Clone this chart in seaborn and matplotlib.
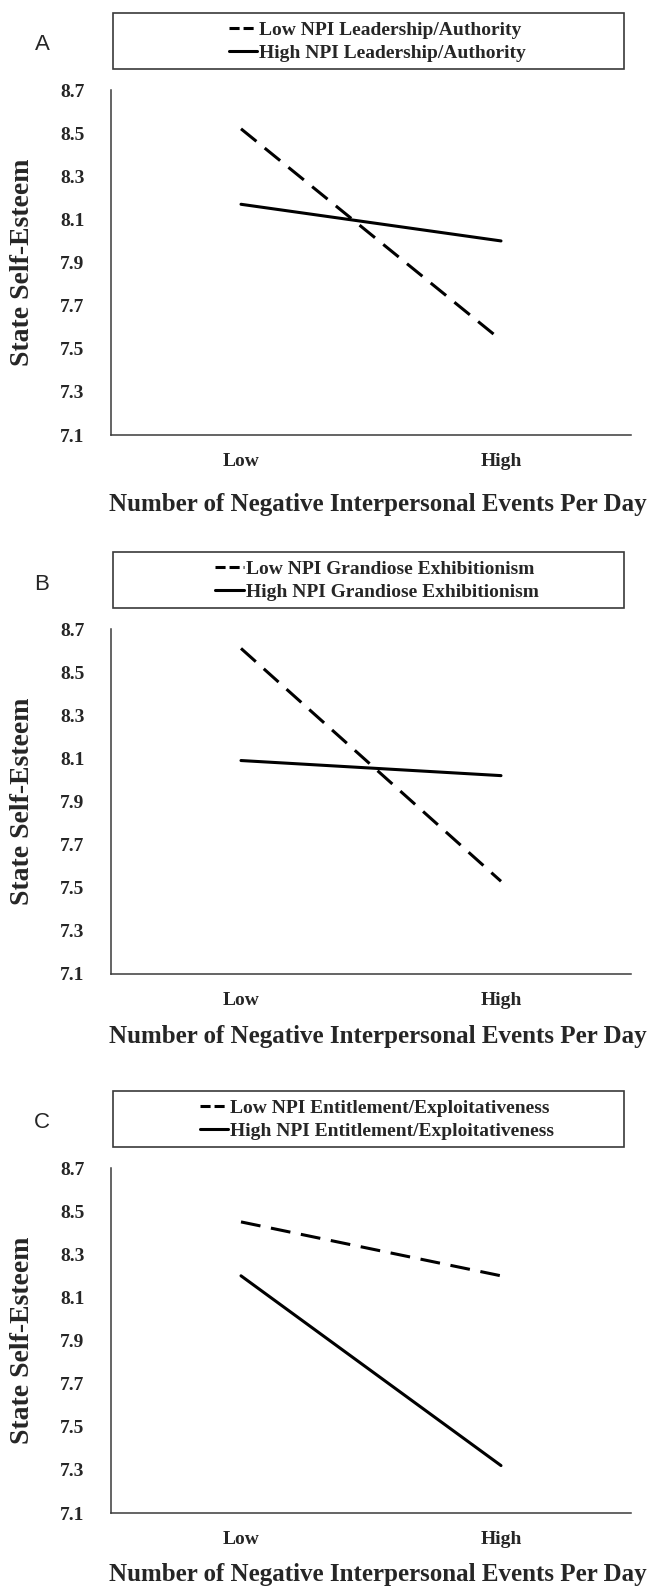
import matplotlib
matplotlib.use("Agg")
import matplotlib.pyplot as plt
from matplotlib.patches import Rectangle
import seaborn as sns
import pandas as pd

# ---- data ----
events = ["Low", "High"]
panel_letters = ["A", "B", "C"]
traits = ["Leadership/Authority", "Grandiose Exhibitionism", "Entitlement/Exploitativeness"]
low_npi = [[8.52, 7.54], [8.61, 7.53], [8.45, 8.20]]
high_npi = [[8.17, 8.00], [8.09, 8.02], [8.20, 7.32]]
yticks = [7.1, 7.3, 7.5, 7.7, 7.9, 8.1, 8.3, 8.5, 8.7]
ylabel = "State Self-Esteem"
xlabel = "Number of Negative Interpersonal Events Per Day"

sns.set_style("white")
plt.rcParams["font.family"] = ["Liberation Serif", "DejaVu Serif"]
plt.rcParams["font.weight"] = "bold"

W, H = 648, 1589
fig = plt.figure(figsize=(W / 100, H / 100), dpi=100)

spine_col = "#3a3a3a"
panel_offset = 539
xlabel_y = [505, 1037, 1574]

for i in range(3):
    off = i * panel_offset
    top, bot = 90 + off, 435 + off
    left, right = 111, 631
    ax = fig.add_axes([left / W, 1 - bot / H, (right - left) / W, (bot - top) / H])
    lo_lab = f"Low NPI {traits[i]}"
    hi_lab = f"High NPI {traits[i]}"
    df = pd.DataFrame({
        "events": events * 2,
        "esteem": low_npi[i] + high_npi[i],
        "group": [lo_lab] * 2 + [hi_lab] * 2,
    })
    sns.lineplot(data=df, x="events", y="esteem", style="group",
                 style_order=[lo_lab, hi_lab],
                 dashes={lo_lab: (6.5, 3.5), hi_lab: ""},
                 color="black", linewidth=2.2, ax=ax, legend=True, sort=False)
    handles, labels = ax.get_legend_handles_labels()
    ax.get_legend().remove()
    for h, l in zip(handles, labels):
        h.set_color("black")
        h.set_linewidth(2.2)
        if l == lo_lab:
            h.set_linestyle((0, (3.3, 1.3)))
        else:
            h.set_linestyle("-")

    ax.set_xlim(-0.5, 1.5)
    ax.set_ylim(7.1, 8.7)
    ax.set_yticks(yticks)
    ax.set_yticklabels([f"{v:.1f}" for v in yticks])
    ax.set_xticks([0, 1])
    ax.set_xticklabels(events)
    ax.set_xticks([-0.5, 0.5, 1.5], minor=True)
    ax.tick_params(axis="x", which="major", length=0, pad=13, labelsize=14)
    ax.tick_params(axis="x", which="minor", length=5, width=1.1, color=spine_col, direction="out")
    ax.tick_params(axis="y", which="major", length=6, width=1.1, color=spine_col,
                   direction="out", pad=13, labelsize=14)
    for lab in ax.get_xticklabels() + ax.get_yticklabels():
        lab.set_fontweight("bold")
    for s in ["top", "right"]:
        ax.spines[s].set_visible(False)
    for s in ["left", "bottom"]:
        ax.spines[s].set_color(spine_col)
        ax.spines[s].set_linewidth(1.1)
    ax.set_xlabel(xlabel, fontsize=18, fontweight="bold", va="center")
    ax.xaxis.set_label_coords((377.5 - left) / (right - left), -(xlabel_y[i] - bot) / (bot - top))
    ax.set_ylabel(ylabel, fontsize=20, fontweight="bold", va="center")
    ax.yaxis.set_label_coords((22 - left) / (right - left), 0.5)
    ax.grid(False)

    # legend box
    bx0, bx1, by0, by1 = 113, 624, 13 + off, 69 + off
    fig.add_artist(Rectangle((bx0 / W, 1 - by1 / H), (bx1 - bx0) / W, (by1 - by0) / H,
                             transform=fig.transFigure, fill=False,
                             edgecolor=spine_col, linewidth=1.2))
    fig.legend(handles, labels, loc="center", bbox_to_anchor=(377 / W, 1 - (41.5 + off) / H),
               frameon=False, handlelength=1.45, handletextpad=0.1,
               labelspacing=0.3, borderpad=0,
               prop={"family": ["Liberation Serif"], "weight": "bold", "size": 14})
    fig.text(42 / W, 1 - (45 + off) / H, panel_letters[i], fontsize=16,
             family=["Liberation Sans", "DejaVu Sans"], fontweight="normal",
             ha="center", va="center")

fig.savefig("out.png", dpi=100, facecolor="white")
